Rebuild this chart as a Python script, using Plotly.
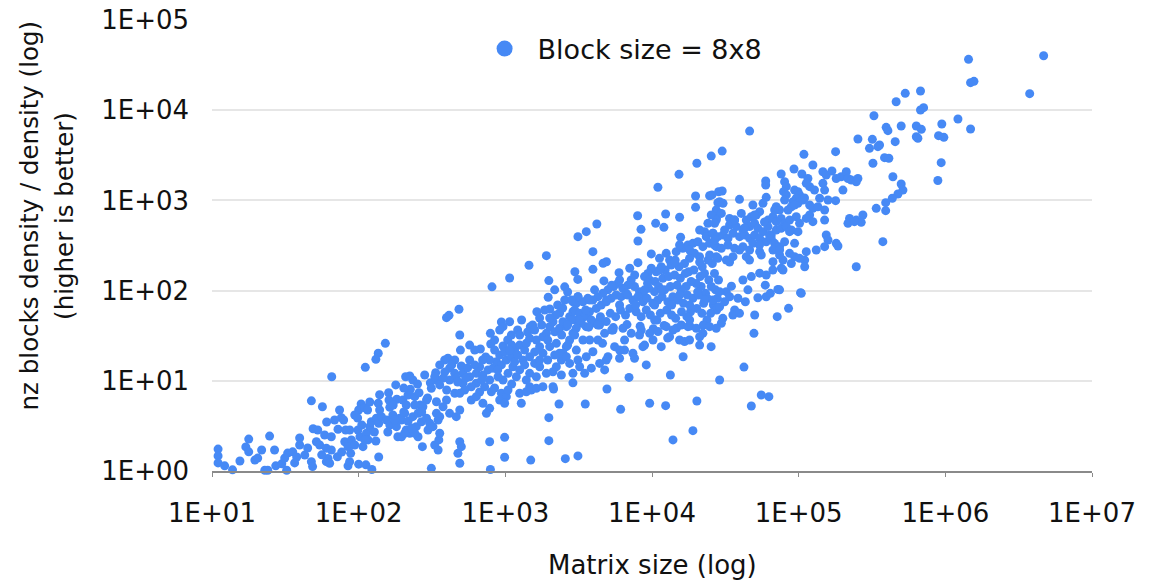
import plotly.graph_objects as go

# Matrix size vs. (non-zero block density / density), block size 8x8.
# Values are grouped by matrix-size range to keep the lists short.
size_a = [11, 11, 11, 13.8, 17, 17.8, 17.8, 22.9, 24, 24.7, 27.2, 29.9, 32.3, 32.8, 35.5, 37.8,
          36.6, 39.6, 42.9, 26.7, 20.5, 15.5, 12.2]
ratio_a = [1.75, 1.47, 1.23, 1.03, 1.85, 2.26, 1.63, 1.02, 1.02, 2.44, 1.14, 1.2, 1.02, 1.58, 1.63, 1.43,
           1.23, 1.94, 1.5, 1.71, 1.39, 1.29, 1.14]

size_b = [152, 136, 131, 111, 65.5, 209, 234, 335, 339, 308,
          47.6, 56.6, 104, 100, 110, 136, 160, 161, 163, 182,
          200, 217, 225, 241, 258, 263, 290, 313, 339, 211,
          76.2, 79, 72.3, 48.9, 58.6, 65.1, 51.5, 54.2, 60.2, 65.1,
          47.6, 48.5, 61.8, 60.2, 63.4, 71.6, 84.6, 86.8, 88.2, 80.4,
          89.2, 84.6, 94, 98.9, 102, 107, 113, 119, 122, 132,
          137, 116, 131, 100, 112, 123, 137, 143, 155, 163,
          181, 171, 190, 185, 196, 211, 223, 254, 247, 268,
          290, 305, 297, 321, 348, 339, 272, 330, 348, 313,
          352, 206, 196, 217, 234, 254, 274, 241, 206, 282,
          252, 223, 179, 203, 139, 119, 94, 105, 81.5, 68.5]
ratio_b = [26.0, 20.2, 17.3, 14.1, 11.1, 11.1, 10.2, 12.3, 10.2, 9.5,
           6.0, 5.16, 5.53, 4.75, 5.03, 5.63, 7.38, 6.12, 5.08, 6.24,
           6.12, 6.96, 8.05, 6.67, 7.38, 5.39, 6.12, 8.26, 5.86, 5.39,
           3.9, 3.68, 2.9, 2.94, 2.51, 2.4, 2.11, 1.94, 1.79, 1.71,
           1.27, 1.12, 1.38, 1.27, 1.22, 1.44, 1.14, 1.27, 1.57, 2.11,
           2.21, 1.86, 1.94, 2.85, 2.4, 1.86, 2.62, 3.1, 3.52, 3.84,
           3.38, 2.21, 2.15, 1.19, 1.17, 1.04, 1.43, 4.0, 3.68, 3.24,
           3.1, 4.18, 3.84, 2.4, 2.4, 2.85, 2.62, 2.4, 3.1, 3.52,
           3.84, 3.38, 2.85, 3.1, 3.68, 4.36, 1.86, 1.94, 1.71, 1.07,
           2.21, 4.36, 3.68, 3.55, 4.0, 4.36, 5.16, 2.62, 2.62, 11.6,
           9.2, 11.3, 9.0, 8.3, 7.0, 5.82, 4.18, 3.24, 2.85, 3.68]

size_c = [1905, 1450, 1070, 811, 1980, 2540, 2980, 3120, 483, 413,
          397, 1960, 1640, 2010, 940, 1070, 964, 1100, 791, 1480,
          494, 676, 795, 964, 406, 386, 330, 417, 452, 501,
          514, 571, 634, 668, 703, 762, 824, 869, 915, 940,
          1016, 1100, 1157, 1252, 1355, 1390, 1465, 1627, 1714, 1804,
          1905, 2006, 2113, 2170, 2345, 2470, 2606, 2744, 2890, 3048,
          3126, 3048, 2890, 2744, 2606, 2470, 2410, 2228, 2113, 1905,
          1714, 1627, 1465, 1390, 1189, 1127, 1043, 964, 892, 782,
          722, 634, 586, 514, 463, 417, 376, 357, 1318, 1465,
          1585, 1804, 2006, 2228, 2345, 2606, 2744, 3048, 3126, 2890,
          2410, 1804, 2113, 1465, 2890, 571, 618, 735, 845, 1038,
          1213, 1291, 1535, 1714, 1854, 2274, 2540, 2345, 2660, 2170,
          1585, 1945, 1157, 1252, 668, 528, 398, 1105, 845, 473,
          553, 452, 357]
ratio_c = [244, 191, 138, 110, 129, 110, 162, 133, 62.1, 53.2,
           50.1, 84.3, 58.3, 62.5, 44.9, 45.2, 39.8, 32.2, 33.6, 39.8,
           21.9, 22.5, 25.6, 24.3, 17.8, 17.0, 11.1, 13.8, 12.1, 14.6,
           12.1, 11.1, 12.1, 14.3, 11.6, 13.2, 13.8, 16.3, 19.3, 15.0,
           17.0, 18.5, 21.9, 24.9, 21.9, 26.0, 29.6, 28.3, 23.9, 30.8,
           33.6, 39.8, 45.2, 35.0, 38.2, 45.2, 39.8, 51.4, 58.3, 72.3,
           85.5, 47.2, 33.6, 28.3, 23.9, 20.2, 17.0, 14.3, 12.6, 12.1,
           14.3, 11.1, 12.1, 10.2, 11.1, 14.3, 12.1, 10.2, 11.1, 10.2,
           8.6, 9.4, 8.6, 9.4, 10.7, 10.2, 10.7, 9.0, 17.0, 18.5,
           15.6, 20.2, 23.9, 26.0, 20.2, 18.5, 15.6, 21.9, 17.0, 12.1,
           11.6, 8.6, 8.6, 8.6, 9.5, 17.0, 21.9, 18.4, 21.9, 28.3,
           36.6, 47.2, 41.6, 49.7, 61.0, 69.2, 78.7, 56.5, 96.4, 102,
           20.9, 17.0, 16.2, 13.2, 7.52, 7.91, 7.91, 9.2, 8.32, 9.7,
           13.9, 17.0, 15.0]

size_d = [397, 452, 376, 417, 463, 489, 357, 357, 489, 501,
          475, 489, 586, 634, 703, 743, 782, 803, 915, 940,
          1016, 989, 1043, 782, 989, 989, 791, 489, 1252, 1390,
          1285, 1503, 1627, 2133, 2323, 3508, 4930, 6110, 1980, 1980,
          1490, 2565, 3126, 3212, 3475, 3857, 4395, 5010, 4755, 3565,
          3955, 4276, 3381]
ratio_d = [6.12, 7.27, 5.16, 4.36, 4.0, 4.75, 4.0, 2.62, 2.11, 1.86,
           1.57, 1.22, 6.12, 6.67, 5.63, 4.36, 4.95, 7.57, 6.12, 7.27,
           6.67, 5.63, 7.91, 2.11, 2.36, 1.42, 1.04, 7.27, 7.27, 7.57,
           5.63, 7.91, 8.26, 8.11, 5.53, 5.53, 8.11, 4.83, 3.9, 2.17,
           1.32, 1.37, 1.47, 14.3, 12.1, 13.8, 15.6, 18.5, 13.2, 18.5,
           21.0, 28.3, 28.3]

size_e = [10970, 19820, 24700, 28450, 28130, 19820, 7980, 12390, 15420, 10590,
          12050, 4207, 3565, 3126, 8414, 8020, 15670, 24050, 27480, 22860,
          3955, 9890, 4890, 4640, 8020, 3955, 5960, 7050, 4700, 6010,
          15280, 20230]
ratio_e = [1397, 1119, 1127, 1248, 942, 838, 676, 707, 650, 557,
           503, 547, 450, 396, 478, 355, 390, 557, 633, 450,
           270, 255, 209, 201, 204, 172, 158, 177, 128, 131,
           1946, 2580]

size_f = [11250, 12500, 13180, 14620, 16220, 17580, 19010, 20560, 22230, 23440,
          24660, 26000, 27420, 28120, 25800, 24050, 22000, 21090, 19500, 18030,
          16670, 15300, 14400, 13520, 12300, 11560, 10690, 9890, 9380, 8890,
          9620, 10500, 11860, 13000, 14260, 15600, 16900, 17800, 19300, 21300,
          22800, 24400, 26670, 28400, 27100, 25350, 23200, 21630, 20000, 18490,
          17100, 15810, 14800, 13350, 12190, 11100, 10400, 9500, 8750, 8220,
          7600, 7210, 6850, 6330, 5850, 5480, 5000, 4620, 4280, 3950,
          3650, 3380, 3130, 2890, 2970, 3210, 3470, 3750, 4170, 4510,
          4880, 5270, 5700, 6170, 6670, 7410, 8020, 8670, 9250, 10140,
          10960, 11700, 12830, 13870, 15000, 16400, 17400, 19010, 20800, 22500,
          23800, 26200, 27900, 27600, 25100, 23700, 21900, 20200, 18300, 17300,
          15900, 14500, 13600, 12600, 11400, 10800, 9750, 9140, 8440, 7800,
          7050, 6600, 6100, 5650, 5200, 4880, 4450, 4120, 3850, 3560,
          3300, 3040, 2810, 22400, 18100, 14700, 12100, 10200, 8300, 6750,
          5450, 4390, 3700]
ratio_f = [228, 259, 218, 270, 294, 320, 334, 348, 307, 396,
           334, 432, 307, 228, 200, 218, 184, 238, 259, 228,
           200, 184, 218, 192, 169, 184, 162, 177, 155, 143,
           131, 126, 137, 143, 149, 137, 155, 162, 169, 143,
           155, 131, 155, 131, 102, 111, 93.3, 111, 120, 126,
           111, 102, 115, 111, 102, 111, 97.3, 106, 89.3, 97.3,
           111, 131, 115, 106, 120, 111, 102, 93.3, 85.7, 78.7,
           82.0, 75.3, 85.7, 75.3, 61.0, 56.0, 51.4, 58.3, 63.5, 69.2,
           75.3, 82.0, 89.3, 85.7, 93.3, 78.7, 85.7, 75.3, 82.0, 72.3,
           78.7, 85.7, 75.3, 85.7, 78.7, 72.3, 89.3, 82.0, 89.3, 72.3,
           82.0, 69.2, 82.0, 61.0, 56.0, 47.2, 56.0, 63.5, 58.3, 51.4,
           58.3, 49.3, 53.7, 61.0, 56.0, 47.2, 53.7, 61.0, 51.4, 58.3,
           63.5, 53.7, 61.0, 51.4, 56.0, 45.3, 51.4, 43.4, 47.2, 39.8,
           43.4, 38.2, 47.2, 41.6, 40.5, 38.5, 41.0, 37.8, 40.2, 42.0,
           38.9, 41.5, 39.3]

size_g = [4750, 5420, 6340, 7220, 8450, 9640, 10990, 12510, 13900, 15850,
          17580, 20050, 22230, 24720, 4600, 5560, 6500, 7410, 8670, 10160,
          11560, 13180, 15420, 16670, 18030, 21130, 6010, 4880, 7600, 9140,
          16300, 25300, 6970, 13340, 28910, 9640, 12390, 20230, 19010, 13900,
          42360, 49550, 47560, 55600, 62650]
ratio_g = [33.6, 36.6, 38.2, 33.6, 36.6, 33.6, 35.1, 39.8, 36.6, 41.6,
           39.8, 38.2, 33.6, 39.8, 26.0, 23.9, 21.9, 20.2, 23.9, 28.3,
           23.9, 30.8, 28.3, 27.2, 28.3, 30.8, 17.8, 17.0, 17.8, 15.0,
           18.5, 23.9, 10.9, 11.6, 10.2, 5.63, 5.3, 5.97, 2.8, 2.21,
           14.2, 33.6, 5.25, 6.96, 6.67]

size_h = [103000, 85300, 71400, 72100, 60100, 52700, 59200, 64100, 43300, 36600,
          35600, 30400, 29700, 27420, 32100, 34800, 28900, 41700, 47550, 54200,
          60100, 66700, 76200, 26000, 28900, 31260, 33800, 38550, 45080, 39500,
          50120]
ratio_h = [94.8, 63.6, 51.4, 103, 85.5, 83.4, 115, 93.3, 75.3, 61.0,
           53.6, 49.3, 43.4, 38.2, 97.3, 112, 97.3, 131, 143, 156,
           149, 169, 177, 78.7, 66.3, 75.3, 85.5, 82.2, 102, 56.0,
           53.6]

size_i = [46300, 253500, 178600, 108600, 30100, 25350, 125000, 92900, 76000, 105200,
          146300, 154200, 168600, 180300, 195000, 211200, 216800, 228500, 247000, 253500,
          115600, 118800, 112700, 146300, 150300, 200400, 59600, 59600, 80200, 82400,
          78900, 82400, 93800, 98900, 101400, 96300, 91400, 89100, 84600, 98900,
          30100, 25650, 39500, 28900, 30500, 60100, 48750, 57100, 70300, 74100,
          106900, 118800, 125000, 139000, 158500, 178600, 135200, 150300, 118800, 112700,
          125000, 150300, 222300, 247000, 216800, 27420, 25350, 29700, 27420, 26730,
          33800, 36560, 40640, 43950, 47550, 51400, 54200, 61800, 66800, 70300,
          76000, 80200, 86700, 96300, 101400, 89100, 98900, 33800, 37580, 41700,
          46300, 50100, 52700, 57100, 61800, 65000, 70300, 76000, 82400, 26060,
          28180, 30500, 32960, 35650, 39550, 42850, 46300, 50100, 54200, 60100,
          65000, 68500, 74100, 80200, 86700, 93800, 26730, 29700, 32960, 36560,
          41700, 46300, 48750, 54200, 66800, 74100, 86700, 93800, 112700, 109900,
          131800, 154200, 158500, 150300, 180300, 185300, 247000, 27420, 32140, 35650,
          43950, 55600, 66800, 78200, 89100, 101400, 109900]
ratio_i = [5870, 4790, 3470, 3240, 3520, 3100, 2470, 2230, 1960, 1960,
           2080, 1910, 2120, 1750, 1830, 2080, 1750, 1680, 1610, 1750,
           1750, 1420, 1545, 1545, 1300, 1300, 1640, 1480, 1610, 1420,
           1250, 1150, 1300, 1250, 1150, 1055, 968, 851, 782, 927,
           1270, 1150, 1028, 968, 927, 1081, 889, 927, 851, 782,
           1009, 889, 817, 1055, 1009, 993, 851, 782, 689, 632,
           581, 605, 632, 605, 557, 782, 689, 718, 605, 557,
           632, 605, 718, 605, 659, 689, 750, 605, 659, 581,
           632, 557, 605, 659, 557, 470, 450, 533, 512, 470,
           512, 557, 490, 450, 512, 413, 470, 490, 512, 432,
           396, 413, 379, 432, 396, 413, 379, 413, 379, 348,
           379, 334, 307, 348, 450, 334, 320, 294, 320, 294,
           307, 282, 334, 270, 282, 248, 259, 238, 270, 218,
           282, 413, 364, 307, 334, 312, 184, 238, 218, 238,
           238, 248, 209, 218, 200, 228, 184]

size_j = [1439000, 1486000, 1567000, 677000, 533000, 462000, 677000, 711000, 326000, 1219000,
          946000, 500000, 395000, 406000, 634000, 686000, 1486000, 318000, 455000, 356000,
          347000, 304000, 634000, 650000, 899000, 977000, 385000, 412000, 321000, 937000,
          439000, 889000, 500000, 514000, 475000, 435000, 392000, 338000, 392000, 274000,
          267000, 240000, 375000, 78200, 74100,
          104200, 4680000, 3760000]
ratio_j = [36600, 20200, 20900, 16330, 15380, 12420, 10050, 10670, 8690, 7980,
           7030, 6680, 6460, 5930, 6680, 6140, 6180, 4750, 4480, 4110,
           3940, 3780, 5080, 4880, 5220, 5000, 2980, 2930, 2580, 2620,
           1830, 1660, 1520, 1300, 1178, 1055, 944, 817, 769, 689,
           571, 581, 349, 169, 102,
           93.3, 40200, 15240]

size_k = [386, 431, 537, 618, 690, 782, 887, 989, 1105, 1213,
          1355, 1420, 1585, 1770, 1945, 2203, 2421, 2660, 2831, 2460,
          2006, 1253, 1069, 845, 700, 571, 489, 915, 1714, 2170,
          2660, 2970, 3210, 3530, 3760, 4060, 4400, 4900, 5310, 6010,
          6820, 7730, 8900, 10420, 11640, 13620, 15420, 18060, 20470, 22850,
          5310, 6500, 8220, 10420, 12790, 18060, 21130, 11270, 14260, 18060,
          21130, 24720, 9330, 7620, 15420, 21130, 26730, 31260, 36560, 42760,
          50000, 58480, 68550, 80170, 93760, 109600, 128200, 54080, 63240, 74130,
          46240, 39540, 33810, 6010, 8900, 3760, 4270]
ratio_k = [12.5, 15.0, 10.7, 15.0, 10.2, 17.0, 13.2, 20.9, 24.9, 19.3,
           15.0, 34.8, 36.6, 41.6, 28.3, 53.6, 32.2, 41.6, 78.7, 64.1,
           49.7, 32.2, 21.9, 28.3, 17.0, 24.9, 32.2, 36.6, 17.0, 19.3,
           24.9, 32.2, 47.2, 61.0, 78.7, 102, 47.2, 78.7, 115, 69.2,
           89.3, 69.2, 102, 69.2, 102, 69.2, 89.3, 69.2, 96.4, 78.7,
           36.6, 28.3, 32.2, 47.2, 29.8, 47.2, 24.9, 169, 207, 282,
           207, 248, 121, 149, 320, 470, 364, 470, 607, 494,
           689, 576, 782, 1009, 889, 1062, 1304, 320, 413, 282,
           218, 282, 207, 21.9, 24.9, 28.3, 41.6]

size_l = [39.6, 44.9, 52.6, 60.5, 74.1, 86.9, 98.4, 115, 139, 158,
          176, 203, 230, 269, 295, 241, 172, 128, 110, 76.6,
          56.0, 31.3, 21.8, 19.6]
ratio_l = [2.32, 1.80, 2.85, 3.49, 4.74, 2.85, 3.87, 4.74, 4.74, 2.71,
           3.68, 4.51, 3.0, 4.51, 6.45, 5.39, 5.39, 2.71, 2.21, 1.62,
           1.51, 1.39, 1.71, 1.32]

size_groups = [size_a, size_b, size_c, size_d, size_e, size_f,
               size_g, size_h, size_i, size_j, size_k, size_l]
ratio_groups = [ratio_a, ratio_b, ratio_c, ratio_d, ratio_e, ratio_f,
                ratio_g, ratio_h, ratio_i, ratio_j, ratio_k, ratio_l]
for s, r in zip(size_groups, ratio_groups):
    assert len(s) == len(r)

matrix_size = [v for g in size_groups for v in g]
density_ratio = [v for g in ratio_groups for v in g]

series_name = "Block size = 8x8"
x_tick_values = [1e1, 1e2, 1e3, 1e4, 1e5, 1e6, 1e7]
x_tick_labels = ["1E+01", "1E+02", "1E+03", "1E+04", "1E+05", "1E+06", "1E+07"]
y_tick_values = [1e0, 1e1, 1e2, 1e3, 1e4, 1e5]
y_tick_labels = ["1E+00", "1E+01", "1E+02", "1E+03", "1E+04", "1E+05"]

FONT = "DejaVu Sans"
BLUE = "#4689f5"
TEXT = "#111111"

fig = go.Figure()
fig.add_trace(go.Scatter(
    x=matrix_size, y=density_ratio, mode="markers", name=series_name,
    legendgroup="b8", showlegend=False, cliponaxis=False,
    marker=dict(size=9, color=BLUE, line=dict(width=0)),
    hoverinfo="skip",
))
# legend entry with a larger swatch than the data markers
fig.add_trace(go.Scatter(
    x=[None], y=[None], mode="markers", name=series_name, legendgroup="b8",
    marker=dict(size=17, color=BLUE, line=dict(width=0)),
))

fig.update_layout(
    width=1150, height=586,
    margin=dict(l=212, r=58, t=20, b=115, autoexpand=False),
    paper_bgcolor="white", plot_bgcolor="white",
    font=dict(family=FONT, size=26, color=TEXT),
    showlegend=True,
    legend=dict(x=0.295, y=0.99, xanchor="left", yanchor="top", itemwidth=56,
                bgcolor="rgba(0,0,0,0)", borderwidth=0,
                font=dict(family=FONT, size=27, color=TEXT)),
)
fig.update_xaxes(
    type="log", range=[1, 7], tickvals=x_tick_values, ticktext=x_tick_labels,
    automargin=False,
    showgrid=False, zeroline=False, showline=True, linecolor="#8a8a8a", linewidth=1.5,
    ticks="outside", ticklen=4, tickwidth=1, tickcolor="#8a8a8a",
    tickfont=dict(family=FONT, size=26, color=TEXT), ticklabelstandoff=14,
)
fig.update_yaxes(
    type="log", range=[0, 5], tickvals=y_tick_values, ticktext=y_tick_labels,
    automargin=False,
    showgrid=True, gridcolor="#e6e6e6", gridwidth=1.5, zeroline=False, showline=False,
    ticks="", tickfont=dict(family=FONT, size=26, color=TEXT), ticklabelstandoff=22,
)

fig.add_annotation(
    text="Matrix size (log)", xref="paper", yref="paper", x=0.5, y=-0.208,
    xanchor="center", yanchor="middle", showarrow=False,
    font=dict(family=FONT, size=26, color=TEXT),
)
fig.add_annotation(
    text="nz blocks density / density (log)",
    xref="paper", yref="paper", x=-0.2077, y=0.565, textangle=-90,
    xanchor="center", yanchor="middle", showarrow=False,
    font=dict(family=FONT, size=24.5, color=TEXT),
)
fig.add_annotation(
    text="(higher is better)",
    xref="paper", yref="paper", x=-0.1685, y=0.565, textangle=-90,
    xanchor="center", yanchor="middle", showarrow=False,
    font=dict(family=FONT, size=24.5, color=TEXT),
)

fig.write_html("out.html")
